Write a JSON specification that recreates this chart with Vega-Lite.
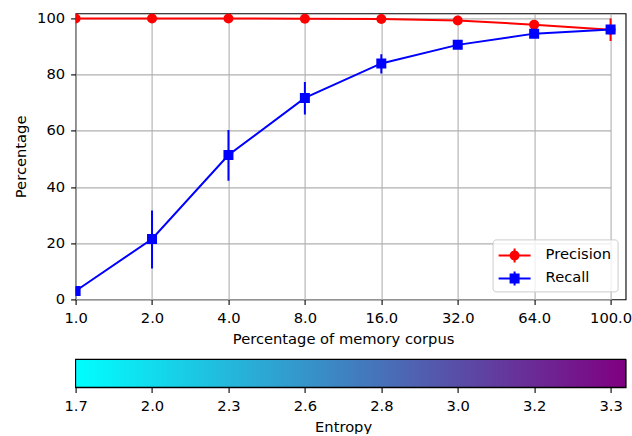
{
  "$schema": "https://vega.github.io/schema/vega-lite/v6.json",
  "padding": {"left": 12.6, "top": 9.4, "right": 5, "bottom": 0},
  "spacing": 10,
  "resolve": {"legend": {"color": "independent", "shape": "independent"}},
  "config": {
    "font": "DejaVu Sans",
    "view": {"stroke": "black", "strokeWidth": 1.1},
    "axis": {
      "labelFont": "DejaVu Sans", "titleFont": "DejaVu Sans",
      "labelFontSize": 14.7, "titleFontSize": 14.7, "titleFontWeight": "normal",
      "labelColor": "black", "titleColor": "black",
      "tickColor": "black", "tickSize": 5, "tickWidth": 1.1, "labelPadding": 6,
      "domain": false,
      "gridColor": "#b0b0b0", "gridWidth": 1.1, "gridOpacity": 1
    }
  },
  "datasets": {
    "metrics": [
      {"corpus": "1.0", "metric": "Precision", "value": 100, "lo": 100, "hi": 100},
      {"corpus": "2.0", "metric": "Precision", "value": 100, "lo": 100, "hi": 100},
      {"corpus": "4.0", "metric": "Precision", "value": 100, "lo": 100, "hi": 100},
      {"corpus": "8.0", "metric": "Precision", "value": 99.9, "lo": 99.8, "hi": 100},
      {"corpus": "16.0", "metric": "Precision", "value": 99.8, "lo": 99.5, "hi": 100},
      {"corpus": "32.0", "metric": "Precision", "value": 99.3, "lo": 98.8, "hi": 99.8},
      {"corpus": "64.0", "metric": "Precision", "value": 97.8, "lo": 96.6, "hi": 99.0},
      {"corpus": "100.0", "metric": "Precision", "value": 96.0, "lo": 92.0, "hi": 100.0},
      {"corpus": "1.0", "metric": "Recall", "value": 3.0, "lo": 1.5, "hi": 4.5},
      {"corpus": "2.0", "metric": "Recall", "value": 21.5, "lo": 11.0, "hi": 31.6},
      {"corpus": "4.0", "metric": "Recall", "value": 51.4, "lo": 42.2, "hi": 60.3},
      {"corpus": "8.0", "metric": "Recall", "value": 71.7, "lo": 65.8, "hi": 77.4},
      {"corpus": "16.0", "metric": "Recall", "value": 84.0, "lo": 80.4, "hi": 87.3},
      {"corpus": "32.0", "metric": "Recall", "value": 90.6, "lo": 89.2, "hi": 92.0},
      {"corpus": "64.0", "metric": "Recall", "value": 94.6, "lo": 93.6, "hi": 95.6},
      {"corpus": "100.0", "metric": "Recall", "value": 96.1, "lo": 95.1, "hi": 97.1}
    ],
    "entropy": [
      {"corpus": "1.0", "entropy": "1.7"},
      {"corpus": "2.0", "entropy": "2.0"},
      {"corpus": "4.0", "entropy": "2.3"},
      {"corpus": "8.0", "entropy": "2.6"},
      {"corpus": "16.0", "entropy": "2.8"},
      {"corpus": "32.0", "entropy": "3.0"},
      {"corpus": "64.0", "entropy": "3.2"},
      {"corpus": "100.0", "entropy": "3.3"}
    ]
  },
  "vconcat": [
    {
      "width": 550,
      "height": 286,
      "data": {"name": "metrics"},
      "encoding": {
        "x": {
          "field": "corpus", "type": "ordinal", "sort": null,
          "scale": {"type": "point", "padding": 0, "range": [0, 535]},
          "axis": {"title": "Percentage of memory corpus", "labelAngle": 0, "grid": true, "titlePadding": 6.3}
        },
        "color": {
          "field": "metric", "type": "nominal",
          "scale": {"domain": ["Precision", "Recall"], "range": ["#ff0000", "#0000ff"]},
          "legend": {
            "orient": "bottom-right", "offset": 8, "title": null,
            "labelFont": "DejaVu Sans", "labelFontSize": 14.7, "labelColor": "black",
            "fillColor": "rgba(255,255,255,0.8)", "strokeColor": "#cccccc", "cornerRadius": 3,
            "padding": 6, "symbolSize": 400, "symbolOpacity": 1, "symbolStrokeWidth": 0,
            "symbolOffset": 6, "labelOffset": 21, "rowPadding": 6
          }
        },
        "y": {
          "field": "value", "type": "quantitative",
          "scale": {"domain": [0, 101.8], "nice": false, "zero": false},
          "axis": {"title": "Percentage", "values": [0, 20, 40, 60, 80, 100], "grid": true, "titlePadding": 8}
        }
      },
      "layer": [
        {
          "mark": {"type": "point", "filled": true, "opacity": 0, "size": 100},
          "encoding": {
            "shape": {
              "field": "metric", "type": "nominal",
              "scale": {
                "domain": ["Precision", "Recall"],
                "range": [
                  "M-1.6,-0.1H1.6V0.1H-1.6ZM-0.1,-0.7H0.1V0.7H-0.1ZM-0.5,0A0.5,0.5 0 1,1 0.5,0A0.5,0.5 0 1,1 -0.5,0Z",
                  "M-1.6,-0.1H1.6V0.1H-1.6ZM-0.1,-0.7H0.1V0.7H-0.1ZM-0.5,-0.5H0.5V0.5H-0.5Z"
                ]
              },
              "legend": null
            }
          }
        },
        {
          "mark": {"type": "line", "strokeWidth": 2, "clip": true}
        },
        {
          "mark": {"type": "rule", "strokeWidth": 2, "clip": true},
          "encoding": {
            "y": {"field": "lo", "type": "quantitative"},
            "y2": {"field": "hi"}
          }
        },
        {
          "transform": [{"filter": "datum.metric === 'Precision'"}],
          "mark": {"type": "point", "shape": "circle", "filled": true, "opacity": 1, "size": 100, "clip": true}
        },
        {
          "transform": [{"filter": "datum.metric === 'Recall'"}],
          "mark": {"type": "point", "shape": "square", "filled": true, "opacity": 1, "size": 100, "clip": true}
        }
      ]
    },
    {
      "width": 550,
      "height": 28,
      "layer": [
        {
          "data": {"values": [{"bar": "Entropy"}]},
          "mark": {
            "type": "rect",
            "fill": {"gradient": "linear", "x1": 0, "y1": 0, "x2": 1, "y2": 0,
              "stops": [{"offset": 0, "color": "#00ffff"}, {"offset": 1, "color": "#800080"}]},
            "stroke": "black", "strokeWidth": 1.1
          },
          "encoding": {}
        },
        {
          "data": {"name": "entropy"},
          "mark": {"type": "tick", "opacity": 0},
          "encoding": {
            "x": {
              "field": "entropy", "type": "ordinal", "sort": "ascending",
              "scale": {"type": "point", "padding": 0, "range": [0, 535]},
              "axis": {"title": "Entropy", "labelAngle": 0, "grid": false, "titlePadding": 6}
            }
          }
        }
      ]
    }
  ]
}
